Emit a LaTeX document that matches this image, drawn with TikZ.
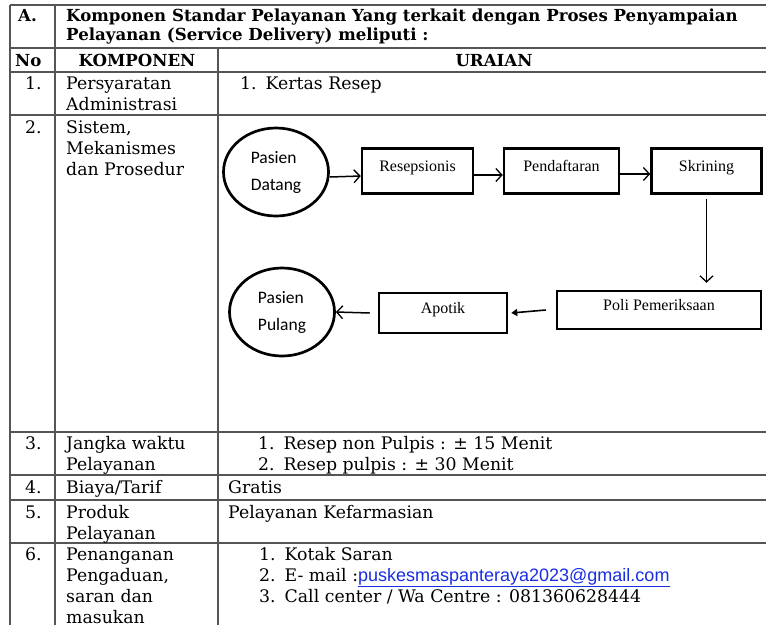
\documentclass[tikz,border=0pt]{standalone}
\usepackage{fontspec}
\usepackage{xcolor}
\usetikzlibrary{shapes,arrows.meta,positioning,calc}
\newfontfamily\bookfont{DejaVu Serif}
\newfontfamily\timesfont{Liberation Serif}
\newfontfamily\calibrifont{Carlito}
\newfontfamily\arialfont{Liberation Sans}
\definecolor{linkblue}{RGB}{25,45,225}
\definecolor{rulegray}{RGB}{85,85,85}

\tikzset{
  rule line/.style={rulegray, line width=1.4pt},
  cell/.style={anchor=base west, inner sep=0pt, align=left, font=\fontsize{17.3}{21.3}\bookfont},
  head/.style={cell, font=\fontsize{16.6}{19.5}\bookfont\bfseries},
  patient/.style={draw, ellipse, line width=2.7pt, inner sep=0pt, minimum width=105, minimum height=88,
    align=left, font=\fontsize{17.5}{27}\calibrifont},
  stepbox/.style={draw, rectangle, line width=2.5pt, inner sep=0pt, text height=11pt, text depth=11pt,
    font=\fontsize{16}{19}\timesfont},
  flow/.style={line width=1.5pt, -{Straight Barb[length=6pt,width=13pt,line width=1.3pt]}},
  flowsolid/.style={line width=1.6pt, -{Triangle[length=6pt,width=7pt]}}
}

\begin{document}
\begin{tikzpicture}[x=1pt,y=-1pt]
  \useasboundingbox[fill=white] (0,0) rectangle (766,625);

  % Table rules
  \foreach \y in {5,48,72,115,432,475,500,543}
    \draw[rule line] (10,\y) -- (766,\y);
  \draw[rule line] (10,5) -- (10,625);
  \draw[rule line] (55,5) -- (55,625);
  \draw[rule line] (218,48) -- (218,625);

  % Header (base anchor sits on the last line)
  \node[head] (secA) at (18,21) {A.};
  \node[head] (title) at (66,40.5) {Komponen Standar Pelayanan Yang terkait dengan Proses Penyampaian\\Pelayanan (Service Delivery) meliputi :};
  \node[head] (hNo) at (15,66) {No};
  \node[head, anchor=base] (hKomp) at (137,66) {KOMPONEN};
  \node[head, anchor=base] (hUraian) at (494,66) {URAIAN};

  % Row 1
  \node[cell] (n1) at (25,89) {1.};
  \node[cell] (k1) at (66,110.3) {Persyaratan\\Administrasi};
  \node[cell] (u1) at (240,89) {1.\hspace{9pt}Kertas Resep};

  % Row 2
  \node[cell] (n2) at (25,133) {2.};
  \node[cell] (k2) at (66,175.6) {Sistem,\\Mekanismes\\dan Prosedur};

  % Flow - top row
  \node[patient] (datang) at (276,172) {Pasien\\Datang};
  \node[stepbox, minimum width=111, minimum height=45] (resep) at (417.5,171) {Resepsionis};
  \node[stepbox, minimum width=115, minimum height=45] (daftar) at (561.5,171) {Pendaftaran};
  \node[stepbox, minimum width=110, minimum height=45] (skrining) at (706.5,171) {Skrining};
  \draw[flow] ([yshift=-5pt]datang.east) -- ([yshift=-5pt]resep.west);
  \draw[flow] ([yshift=-4pt]resep.east) -- ([yshift=-4pt]daftar.west);
  \draw[flow] ([yshift=-3pt]daftar.east) -- ([yshift=-3pt]skrining.west);

  % Flow - bottom row
  \node[stepbox, minimum width=204, minimum height=38] (poli) at (659,310) {Poli Pemeriksaan};
  \node[stepbox, minimum width=128, minimum height=40] (apotik) at (443,313) {Apotik};
  \node[patient] (pulang) at (282,312) {Pasien\\Pulang};
  \draw[flow] ([yshift=-4pt]skrining.south) -- ([yshift=7pt]skrining.south |- poli.north);
  \draw[flowsolid] ([xshift=-10pt]poli.west) -- ([xshift=3pt]apotik.east);
  \draw[flow] ([xshift=-8pt]apotik.west) -- (pulang.east);

  % Row 3
  \node[cell] (n3) at (25,449) {3.};
  \node[cell] (k3) at (66,470.3) {Jangka waktu\\Pelayanan};
  \node[cell] (u3) at (258,470.3) {1.\hspace{9pt}Resep non Pulpis : \textpm\ 15 Menit\\2.\hspace{9pt}Resep pulpis : \textpm\ 30 Menit};

  % Row 4
  \node[cell] (n4) at (25,493) {4.};
  \node[cell] (k4) at (66,493) {Biaya/Tarif};
  \node[cell] (u4) at (228,493) {Gratis};

  % Row 5
  \node[cell] (n5) at (25,518) {5.};
  \node[cell] (k5) at (66,539.3) {Produk\\Pelayanan};
  \node[cell] (u5) at (228,518) {Pelayanan Kefarmasian};

  % Row 6
  \node[cell] (n6) at (25,560) {6.};
  \node[cell] (k6) at (66,623.9) {Penanganan\\Pengaduan,\\saran dan\\masukan};
  \node[cell] (u6) at (259,602.6) {1.\hspace{9pt}Kotak Saran\\2.\hspace{9pt}E- mail :{\arialfont\fontsize{18}{21.3}\selectfont\color{linkblue}\underline{puskesmaspanteraya2023@gmail.com}}\\3.\hspace{9pt}Call center / Wa Centre : 081360628444};
\end{tikzpicture}
\end{document}
